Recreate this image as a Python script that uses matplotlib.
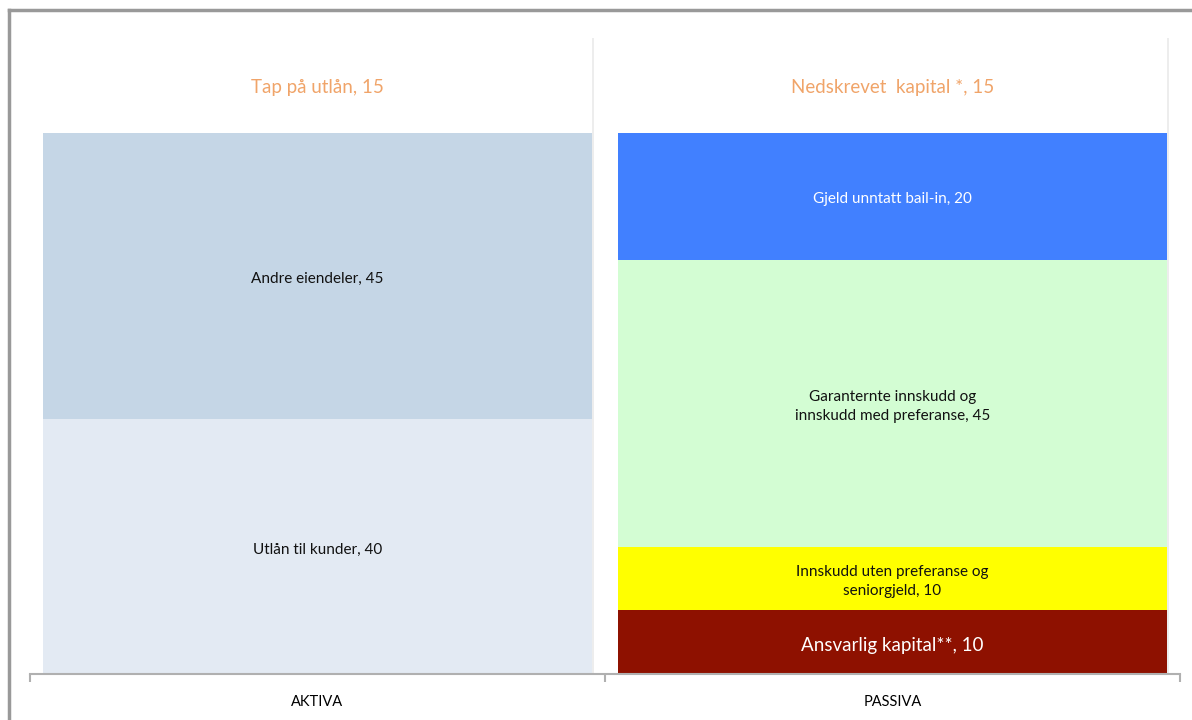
import matplotlib.pyplot as plt
import matplotlib.patheffects as pe
from matplotlib.lines import Line2D

plt.rcParams['font.family'] = ['Lato', 'DejaVu Sans']

categories = ["AKTIVA", "PASSIVA"]

aktiva_labels = ["Utlån til kunder, 40", "Andre eiendeler, 45", "Tap på utlån, 15"]
aktiva_values = [40, 45, 15]
aktiva_colors = ["#E3EAF3", "#C5D6E6", "#FFFFFF"]
aktiva_text = ["#111111", "#111111", "#F0A469"]

passiva_labels = ["Ansvarlig kapital**, 10",
                  "Innskudd uten preferanse og\nseniorgjeld, 10",
                  "Garanternte innskudd og\ninnskudd med preferanse, 45",
                  "Gjeld unntatt bail-in, 20",
                  "Nedskrevet  kapital *, 15"]
passiva_values = [10, 10, 45, 20, 15]
passiva_colors = ["#8E1100", "#FFFF00", "#D3FDD3", "#4180FF", "#FFFFFF"]
passiva_text = ["#FFFFFF", "#111111", "#111111", "#FFFFFF", "#F0A469"]
passiva_sizes = [13.5, 11, 11, 11, 13.5]
aktiva_sizes = [11, 11, 13.5]

fig = plt.figure(figsize=(11.92, 7.2), dpi=100)
W, H = 1192, 720
ax = fig.add_axes([30 / W, 46 / H, 1150 / W, 637 / H])

shadow = [pe.SimplePatchShadow(offset=(1.5, -1), shadow_rgbFace="#000000", alpha=0.07), pe.Normal()]

def stack(x, values, colors, labels, tcolors, sizes):
    # one soft shadow behind the whole column
    col = ax.bar(x, sum(values), width=0.955, color="white", edgecolor="none", zorder=1)
    col[0].set_path_effects(shadow)
    bottom = 0
    for v, c, lab, tc, fs in zip(values, colors, labels, tcolors, sizes):
        ax.bar(x, v, bottom=bottom, width=0.955, color=c, edgecolor="none", zorder=2)
        ax.text(x, bottom + v / 2 - 0.5, lab, ha="center", va="center", color=tc,
                fontsize=fs, linespacing=1.5, zorder=3)
        bottom += v

stack(0, aktiva_values, aktiva_colors, aktiva_labels, aktiva_text, aktiva_sizes)
stack(1, passiva_values, passiva_colors, passiva_labels, passiva_text, passiva_sizes)

ax.set_xlim(-0.5, 1.5)
ax.set_ylim(0, 100)
for s in ["top", "left", "right"]:
    ax.spines[s].set_visible(False)
ax.spines["bottom"].set_color("#B0B0B0")
ax.spines["bottom"].set_linewidth(1.5)
ax.spines["bottom"].set_zorder(4)
ax.set_yticks([])
ax.set_xticks([0, 1])
ax.set_xticklabels(categories, fontsize=10.5)
ax.tick_params(axis="x", which="major", length=0, pad=15)
ax.set_xticks([-0.5, 0.5, 1.5], minor=True)
ax.tick_params(axis="x", which="minor", length=6, width=1.5, color="#B0B0B0")

# outer frame (partly cut off)
fig.add_artist(Line2D([9 / W, 1.0], [1 - 10 / H, 1 - 10 / H], color="#999999", lw=2.5, transform=fig.transFigure))
fig.add_artist(Line2D([9 / W, 9 / W], [0, 1 - 10 / H], color="#999999", lw=2.5, transform=fig.transFigure))

fig.savefig("out.png", dpi=100)
